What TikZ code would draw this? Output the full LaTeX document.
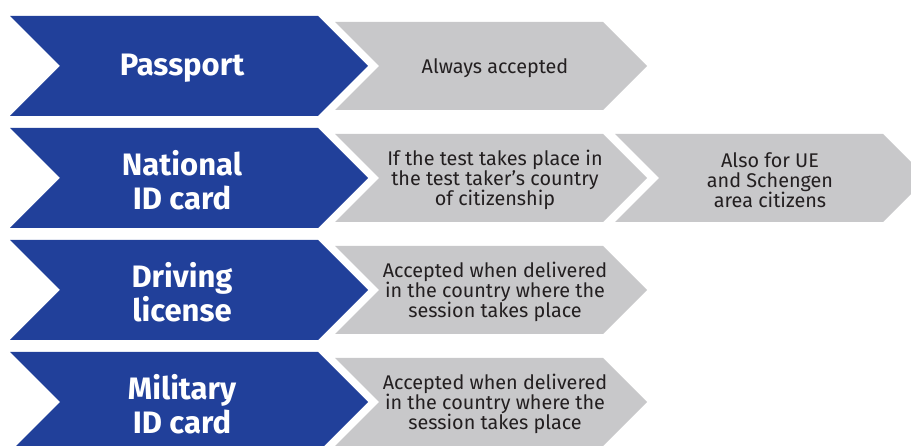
\documentclass[tikz,border=0pt]{standalone}
\usepackage{fontspec}
\setmainfont{Fira Sans}
\begin{document}
\begin{tikzpicture}[x=1pt,y=-1pt]
	\definecolor{custcol_blue}{RGB}{33, 64, 154}
	\definecolor{custcol_grey}{RGB}{200, 200, 202}
	\definecolor{custcol_text}{RGB}{35, 31, 32}
	\tikzset{
		doclabel/.style={inner sep=0, outer sep=0, white, align=center,
			font=\fontsize{31pt}{34pt}\bfseries\selectfont},
		ruletext/.style={inner sep=0, outer sep=0, custcol_text, align=center,
			font=\fontsize{19.8pt}{20pt}\selectfont}
	}
	\useasboundingbox (0,0) rectangle (911,446);
	\clip (0,0) rectangle (911,446);
	% blue document chevrons
	\fill [custcol_blue] (10,16) -- (318,16) -- (368,66) -- (318,116) -- (10,116) -- (60,66) -- cycle;
	\fill [custcol_blue] (10,128) -- (318,128) -- (368,178) -- (318,228) -- (10,228) -- (60,178) -- cycle;
	\fill [custcol_blue] (10,240) -- (318,240) -- (368,290) -- (318,340) -- (10,340) -- (60,290) -- cycle;
	\fill [custcol_blue] (10,352) -- (318,352) -- (368,402) -- (318,452) -- (10,452) -- (60,402) -- cycle;
	% grey rule chevrons
	\fill [custcol_grey] (335,22) -- (603,22) -- (647,66) -- (603,110) -- (335,110) -- (379,66) -- cycle;
	\fill [custcol_grey] (335,134) -- (603,134) -- (647,178) -- (603,222) -- (335,222) -- (379,178) -- cycle;
	\fill [custcol_grey] (615,134) -- (883,134) -- (927,178) -- (883,222) -- (615,222) -- (659,178) -- cycle;
	\fill [custcol_grey] (335,246) -- (603,246) -- (647,290) -- (603,334) -- (335,334) -- (379,290) -- cycle;
	\fill [custcol_grey] (335,358) -- (603,358) -- (647,402) -- (603,446) -- (335,446) -- (379,402) -- cycle;
	% labels
	\node [doclabel] (passport) at (182,68) {Passport};
	\node [doclabel] (natid) at (182,180) {National\\ID card};
	\node [doclabel] (driving) at (182,292) {Driving\\license};
	\node [doclabel] (military) at (182,404) {Military\\ID card};
	\node [ruletext] (always) at (495,68) {Always accepted};
	\node [ruletext] (citizen) at (495,180) {If the test takes place in\\the test taker’s country\\of citizenship};
	\node [ruletext] (schengen) at (770,180) {Also for UE\\and Schengen\\area citizens};
	\node [ruletext] (drivingrule) at (495,292) {Accepted when delivered\\in the country where the\\session takes place};
	\node [ruletext] (militaryrule) at (495,404) {Accepted when delivered\\in the country where the\\session takes place};
\end{tikzpicture}
\end{document}
